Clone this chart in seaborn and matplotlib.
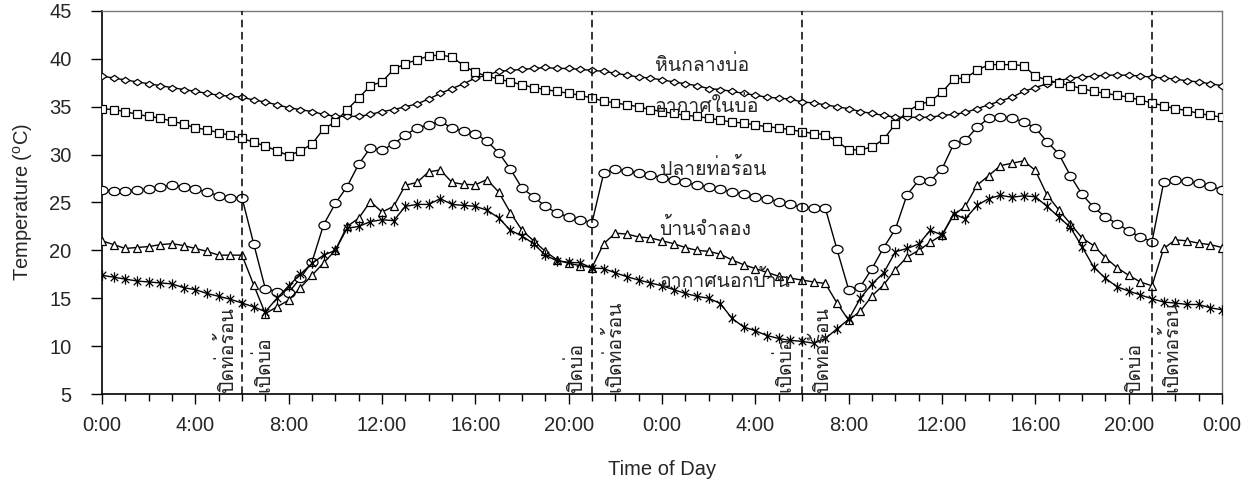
import numpy as np
import pandas as pd
import matplotlib
matplotlib.use("Agg")
import matplotlib.pyplot as plt
from matplotlib.path import Path
from matplotlib import font_manager
from matplotlib.ft2font import FT2Font
import seaborn as sns

# ---------------- data ----------------
time_hours = np.arange(0, 48.5, 0.5)

rock_center = [38.2, 38.0, 37.8, 37.6, 37.4, 37.2, 37.0, 36.8, 36.6, 36.4, 36.2, 36.1, 36.0, 35.7, 35.5, 35.2,
               34.9, 34.7, 34.5, 34.2, 34.0, 34.0, 34.0, 34.2, 34.5, 34.7, 35.0, 35.3, 35.8, 36.4, 36.9, 37.4,
               38.0, 38.3, 38.7, 38.8, 38.9, 39.0, 39.1, 39.0, 39.0, 38.9, 38.8, 38.7, 38.5, 38.3, 38.1, 38.0,
               37.8, 37.6, 37.4, 37.2, 36.9, 36.8, 36.6, 36.4, 36.2, 36.0, 35.9, 35.8, 35.5, 35.4, 35.2, 35.0,
               34.8, 34.5, 34.3, 34.1, 33.9, 33.9, 33.9, 33.9, 34.1, 34.2, 34.4, 34.8, 35.2, 35.6, 36.0, 36.6,
               37.0, 37.4, 37.7, 38.0, 38.1, 38.2, 38.3, 38.3, 38.3, 38.2, 38.1, 38.0, 37.9, 37.7, 37.6, 37.4,
               37.2]
air_in_pond = [34.8, 34.7, 34.5, 34.2, 34.0, 33.8, 33.5, 33.2, 32.8, 32.6, 32.3, 32.0, 31.7, 31.3, 30.9, 30.4,
               29.9, 30.4, 31.1, 32.7, 33.4, 34.7, 35.9, 37.2, 37.6, 38.9, 39.5, 39.9, 40.3, 40.4, 40.2, 39.3,
               38.6, 38.2, 37.9, 37.6, 37.3, 37.0, 36.8, 36.6, 36.4, 36.2, 35.9, 35.6, 35.4, 35.2, 35.0, 34.7,
               34.5, 34.3, 34.1, 34.0, 33.8, 33.6, 33.4, 33.3, 33.1, 32.9, 32.8, 32.6, 32.4, 32.2, 32.1, 31.4,
               30.5, 30.5, 30.8, 31.6, 33.2, 34.5, 35.2, 35.6, 36.5, 37.9, 38.0, 38.8, 39.4, 39.4, 39.4, 39.3,
               38.2, 37.8, 37.5, 37.2, 36.9, 36.6, 36.4, 36.2, 36.0, 35.7, 35.4, 35.1, 34.8, 34.6, 34.3, 34.1,
               33.9]
hot_pipe_end = [26.3, 26.2, 26.2, 26.3, 26.4, 26.65, 26.8, 26.65, 26.4, 26.1, 25.7, 25.5, 25.5, 20.7, 16.0, 15.7,
                15.6, 17.1, 18.8, 22.7, 24.9, 26.65, 29.0, 30.7, 30.5, 31.1, 32.05, 32.8, 33.1, 33.5, 32.75, 32.5,
                32.2, 31.4, 30.2, 28.5, 26.5, 25.6, 24.6, 23.9, 23.5, 23.2, 22.9, 28.05, 28.5, 28.3, 28.1, 27.9,
                27.6, 27.35, 27.1, 26.8, 26.65, 26.4, 26.1, 25.9, 25.6, 25.4, 25.1, 24.8, 24.5, 24.45, 24.4, 20.1,
                15.9, 16.2, 18.1, 20.3, 22.2, 25.8, 27.3, 27.25, 28.5, 31.1, 31.5, 32.85, 33.8, 33.95, 33.85, 33.4,
                32.8, 31.35, 30.1, 27.8, 25.85, 24.5, 23.5, 22.8, 22.05, 21.4, 20.9, 27.1, 27.4, 27.2, 27.0, 26.75,
                26.3]
model_house = [21.0, 20.6, 20.2, 20.3, 20.4, 20.6, 20.7, 20.5, 20.2, 19.9, 19.5, 19.5, 19.5, 16.4, 13.4, 14.1,
               14.8, 16.1, 17.4, 18.7, 20.0, 22.5, 23.35, 25.1, 24.0, 24.6, 26.8, 27.1, 28.2, 28.4, 27.1, 26.9,
               26.85, 27.4, 26.1, 23.95, 22.1, 21.0, 19.9, 19.0, 18.65, 18.4, 18.2, 20.7, 21.8, 21.7, 21.4, 21.3,
               21.0, 20.7, 20.3, 20.0, 19.9, 19.6, 19.0, 18.5, 18.1, 17.7, 17.3, 17.1, 16.9, 16.7, 16.55, 14.5,
               12.7, 13.65, 15.25, 16.4, 18.0, 19.3, 20.0, 20.85, 21.6, 23.7, 24.6, 26.8, 27.8, 28.85, 29.1, 29.35,
               28.35, 25.8, 24.25, 22.8, 21.3, 20.5, 19.25, 18.2, 17.4, 16.7, 16.3, 20.2, 21.1, 21.0, 20.75, 20.6,
               20.3]
outside_air = [17.4, 17.2, 17.0, 16.8, 16.7, 16.6, 16.5, 16.1, 15.9, 15.5, 15.2, 14.9, 14.5, 14.1, 13.6, 15.0,
               16.3, 17.5, 18.65, 19.5, 20.0, 22.3, 22.5, 23.0, 23.2, 23.1, 24.6, 24.8, 24.8, 25.4, 24.8, 24.7,
               24.6, 24.2, 23.4, 22.1, 21.5, 20.7, 19.5, 18.9, 18.75, 18.7, 18.15, 18.1, 17.65, 17.25, 16.9, 16.6,
               16.3, 15.9, 15.5, 15.2, 15.0, 14.45, 12.9, 12.0, 11.6, 11.1, 10.8, 10.6, 10.5, 10.3, 10.8, 11.8,
               12.8, 15.0, 16.5, 17.65, 19.85, 20.2, 20.65, 22.1, 21.6, 23.8, 23.3, 24.7, 25.4, 25.75, 25.55, 25.7,
               25.6, 24.6, 23.5, 22.4, 20.4, 18.25, 17.1, 16.2, 15.75, 15.35, 14.95, 14.6, 14.5, 14.35, 14.35, 14.0,
               13.8]

series_names = ["หินกลางบ่อ", "อากาศในบ่อ", "ปลายท่อร้อน", "บ้านจำลอง", "อากาศนอกบ้าน"]
label_pos = [(23.7, 38.7), (23.7, 34.45), (23.9, 27.87), (23.9, 21.6), (23.9, 16.2)]

xtick_pos = [0, 4, 8, 12, 16, 20, 24, 28, 32, 36, 40, 44, 48]
xtick_labels = ["0:00", "4:00", "8:00", "12:00", "16:00", "20:00",
                "0:00", "4:00", "8:00", "12:00", "16:00", "20:00", "0:00"]
yticks = [5, 10, 15, 20, 25, 30, 35, 40, 45]

event_hours = [6, 21, 30, 45]
event_left = ["ปิดท่อร้อน", "ปิดบ่อ", "เปิดบ่อ", "ปิดบ่อ"]
event_right = ["เปิดบ่อ", "เปิดท่อร้อน", "ปิดท่อร้อน", "เปิดท่อร้อน"]

# ---------------- fonts ----------------
def find_thai_fonts():
    found = {}
    seen = set()
    for f in font_manager.fontManager.ttflist:
        if f.fname in seen:
            continue
        seen.add(f.fname)
        try:
            cm = FT2Font(f.fname).get_charmap()
        except Exception:
            continue
        if 0x0E01 in cm and 0x0E34 in cm:
            found.setdefault(f.name, f.fname)
    return found

thai_found = find_thai_fonts()
prefs = ["Tahoma", "Loma", "Noto Sans Thai Looped", "Garuda", "Sarabun", "Noto Sans Thai"]
thai_font = None
for p in prefs:
    if p in thai_found:
        thai_font = p
        break
if thai_font is None and thai_found:
    thai_font = sorted(thai_found)[0]
thai_family = ([thai_font] if thai_font else []) + ["Liberation Sans", "DejaVu Sans"]

sns.set_style("ticks")
plt.rcParams["font.family"] = ["Liberation Sans", "DejaVu Sans"]
plt.rcParams["mathtext.fontset"] = "custom"
plt.rcParams["mathtext.rm"] = "Liberation Sans"
plt.rcParams["mathtext.it"] = "Liberation Sans:italic"

# ---------------- markers ----------------
diamond = [(-1, 0), (0, 0.72), (1, 0), (0, -0.72), (-1, 0)]
t = np.linspace(0, 2 * np.pi, 41)
ellipse = list(zip(np.cos(t), 0.74 * np.sin(t)))
star = Path([(-0.72, -0.72), (0.72, 0.72), (-0.72, 0.72), (0.72, -0.72), (0, -1), (0, 1)],
            [Path.MOVETO, Path.LINETO, Path.MOVETO, Path.LINETO, Path.MOVETO, Path.LINETO])

styles = [
    dict(marker=diamond, markersize=6.4, markerfacecolor="white"),
    dict(marker="s", markersize=5.4, markerfacecolor="white"),
    dict(marker=ellipse, markersize=8.0, markerfacecolor="white"),
    dict(marker="^", markersize=5.8, markerfacecolor="white"),
    dict(marker=star, markersize=7.5, markerfacecolor="none"),
]
values = [rock_center, air_in_pond, hot_pipe_end, model_house, outside_air]

# ---------------- figure ----------------
fig = plt.figure(figsize=(12.53, 4.82), dpi=100)
ax = fig.add_axes([102 / 1253, 1 - 394 / 482, 1120 / 1253, 383 / 482])

for name, vals, st in zip(series_names, values, styles):
    df = pd.DataFrame({"hour": time_hours, "temp": vals})
    sns.lineplot(data=df, x="hour", y="temp", ax=ax, color="black", linewidth=1.0,
                 markeredgecolor="black", markeredgewidth=0.9, zorder=3, **st)

for h in event_hours:
    ax.axvline(h, color="black", linewidth=1.1, linestyle=(0, (5, 3)), zorder=4)

for (x, y), name in zip(label_pos, series_names):
    ax.text(x, y, name, fontsize=14, family=thai_family, ha="left", va="baseline", zorder=5)

left_base = [5.61, 20.57, 29.49, 44.49]
right_base = [7.16, 22.2, 31.11, 46.07]
for h, lb, rb, lt, rt in zip(event_hours, left_base, right_base, event_left, event_right):
    ax.text(lb, 5.2, lt, rotation=90, rotation_mode="anchor", ha="left", va="baseline",
            fontsize=14, family=thai_family, zorder=5)
    ax.text(rb, 5.2, rt, rotation=90, rotation_mode="anchor", ha="left", va="baseline",
            fontsize=14, family=thai_family, zorder=5)

ax.set_xlim(0, 48)
ax.set_ylim(5, 45)
ax.set_xticks(xtick_pos)
ax.set_xticklabels(xtick_labels)
ax.set_xticks(np.arange(0, 49, 1), minor=True)
ax.set_yticks(yticks)
ax.tick_params(axis="both", which="major", labelsize=14.5, direction="out", color="black", width=1.0)
ax.tick_params(axis="x", which="major", length=7, pad=9)
ax.tick_params(axis="x", which="minor", length=5, width=1.0, color="black")
ax.tick_params(axis="y", which="major", length=8, pad=14)
ax.set_xlabel("Time of Day", fontsize=14.5, labelpad=18)
ax.set_ylabel(r"Temperature ($^{\mathrm{o}}$C)", fontsize=14.5, labelpad=10)

for s in ["left", "bottom"]:
    ax.spines[s].set_color("black")
    ax.spines[s].set_linewidth(1.2)
for s in ["top", "right"]:
    ax.spines[s].set_visible(True)
    ax.spines[s].set_color("#777777")
    ax.spines[s].set_linewidth(1.0)

fig.savefig("out.png", dpi=100)
